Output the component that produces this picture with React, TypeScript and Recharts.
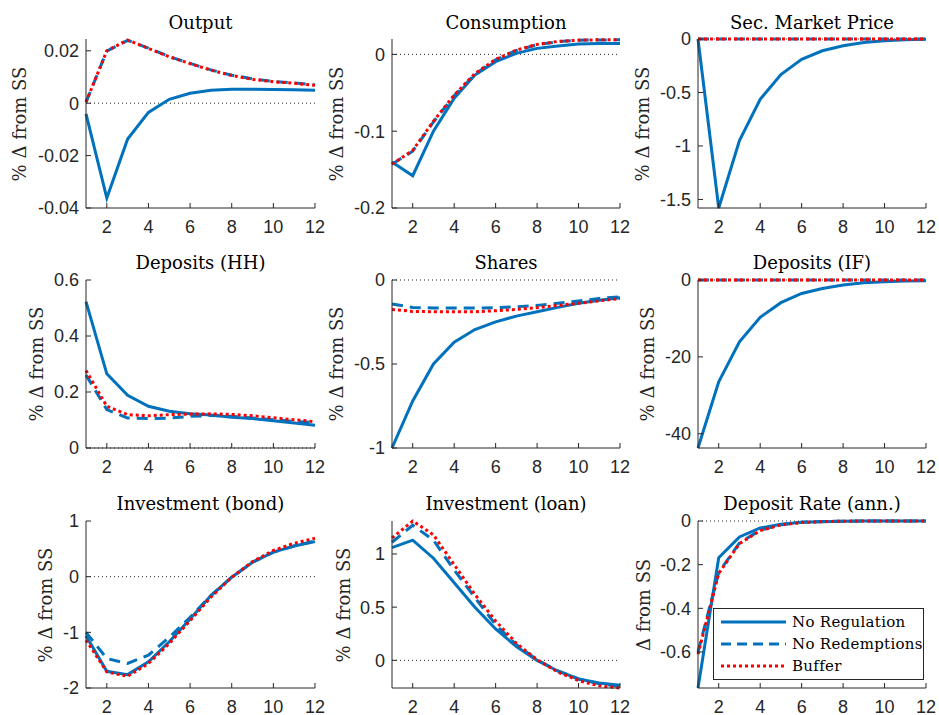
import React from 'react';
import { LineChart, Line, XAxis, YAxis, ReferenceLine, Legend } from 'recharts';

const periods = [1, 2, 3, 4, 5, 6, 7, 8, 9, 10, 11, 12];
const xTicks = [2, 4, 6, 8, 10, 12];

// Output
const outputNoReg = [-0.0041, -0.0362, -0.0137, -0.0035, 0.0015, 0.0038, 0.0049, 0.0053, 0.0053, 0.0052, 0.0051, 0.0049];
const outputNoRed = [0.0004, 0.0199, 0.024, 0.021, 0.0178, 0.0152, 0.0127, 0.0107, 0.0093, 0.0083, 0.0077, 0.007];
const outputBuffer = [0.0004, 0.02, 0.0241, 0.0209, 0.0177, 0.0151, 0.0126, 0.0106, 0.0091, 0.0082, 0.0076, 0.0068];
const outputTicks = [-0.04, -0.02, 0, 0.02];

// Consumption
const consNoReg = [-0.14, -0.158, -0.1, -0.057, -0.027, -0.0095, 0.0013, 0.0078, 0.011, 0.0134, 0.0142, 0.0142];
const consNoRed = [-0.143, -0.126, -0.088, -0.054, -0.026, -0.007, 0.005, 0.0125, 0.0165, 0.0183, 0.0188, 0.0189];
const consBuffer = [-0.143, -0.125, -0.087, -0.053, -0.025, -0.0065, 0.0056, 0.013, 0.0168, 0.0185, 0.019, 0.019];
const consTicks = [-0.2, -0.1, 0];

// Sec. Market Price
const secNoReg = [0, -1.58, -0.95, -0.563, -0.332, -0.19, -0.11, -0.063, -0.032, -0.016, -0.006, -0.003];
const secNoRed = [0, 0, 0, 0, 0, 0, 0, 0, 0, 0, 0, 0];
const secBuffer = [0, 0, 0, 0, 0, 0, 0, 0, 0, 0, 0, 0];
const secTicks = [-1.5, -1, -0.5, 0];

// Deposits (HH)
const hhNoReg = [0.523, 0.265, 0.188, 0.149, 0.131, 0.122, 0.118, 0.11, 0.105, 0.097, 0.089, 0.081];
const hhNoRed = [0.261, 0.137, 0.107, 0.105, 0.107, 0.113, 0.116, 0.113, 0.107, 0.101, 0.095, 0.091];
const hhBuffer = [0.277, 0.149, 0.119, 0.115, 0.119, 0.121, 0.122, 0.12, 0.115, 0.108, 0.101, 0.094];
const hhTicks = [0, 0.2, 0.4, 0.6];

// Shares
const sharesNoReg = [-1.0, -0.72, -0.5, -0.37, -0.295, -0.249, -0.215, -0.189, -0.163, -0.139, -0.12, -0.105];
const sharesNoRed = [-0.143, -0.163, -0.167, -0.167, -0.167, -0.165, -0.159, -0.151, -0.139, -0.125, -0.11, -0.1];
const sharesBuffer = [-0.175, -0.187, -0.189, -0.189, -0.189, -0.183, -0.175, -0.165, -0.151, -0.139, -0.124, -0.11];
const sharesTicks = [-1, -0.5, 0];

// Deposits (IF)
const ifNoReg = [-43.7, -26.5, -16.1, -9.7, -5.9, -3.5, -2.2, -1.3, -0.7, -0.43, -0.26, -0.17];
const ifNoRed = [0, 0, 0, 0, 0, 0, 0, 0, 0, 0, 0, 0];
const ifBuffer = [0, 0, 0, 0, 0, 0, 0, 0, 0, 0, 0, 0];
const ifTicks = [-40, -20, 0];

// Investment (bond)
const bondNoReg = [-1.06, -1.7, -1.76, -1.53, -1.17, -0.76, -0.34, -0.01, 0.26, 0.44, 0.55, 0.63];
const bondNoRed = [-1.0, -1.47, -1.56, -1.41, -1.09, -0.73, -0.34, -0.01, 0.26, 0.44, 0.55, 0.64];
const bondBuffer = [-1.14, -1.71, -1.79, -1.56, -1.2, -0.79, -0.37, -0.01, 0.27, 0.47, 0.6, 0.69];
const bondTicks = [-2, -1, 0, 1];

// Investment (loan)
const loanNoReg = [1.06, 1.13, 0.96, 0.73, 0.5, 0.295, 0.13, 0.0, -0.1, -0.175, -0.213, -0.235];
const loanNoRed = [1.11, 1.27, 1.13, 0.85, 0.59, 0.335, 0.147, 0.006, -0.1, -0.175, -0.22, -0.245];
const loanBuffer = [1.15, 1.31, 1.18, 0.9, 0.62, 0.37, 0.16, 0.006, -0.11, -0.19, -0.24, -0.26];
const loanTicks = [0, 0.5, 1];

// Deposit Rate (ann.)
const rateNoReg = [-0.765, -0.168, -0.073, -0.032, -0.015, -0.006, -0.003, -0.001, 0, 0, 0, 0];
const rateNoRed = [-0.6, -0.235, -0.1, -0.042, -0.017, -0.006, -0.002, -0.001, 0, 0, 0, 0];
const rateBuffer = [-0.61, -0.24, -0.104, -0.044, -0.018, -0.007, -0.003, -0.001, 0, 0, 0, 0];
const rateTicks = [-0.6, -0.4, -0.2, 0];

const BLUE = '#0072BD';
const RED = '#FF0000';
const INK = '#262626';

const colLeft = [86, 392, 698];
const colWidth = [229, 228, 228];
const rowTop = [39, 280, 521];
const rowHeight = [169, 168, 167];
const titleY = [23, 263, 504];

const Y_W = 70;
const X_H = 40;
const M_TOP = 10;
const M_RIGHT = 14;

type PanelDef = {
  title: string;
  ylabel: string;
  noReg: number[];
  noRed: number[];
  buffer: number[];
  domain: [number, number];
  ticks: number[];
  row: number;
  col: number;
  labelX: number;
  legend?: boolean;
};

const panels: PanelDef[] = [
  { title: 'Output', ylabel: '% Δ from SS', noReg: outputNoReg, noRed: outputNoRed, buffer: outputBuffer, domain: [-0.04, 0.0245], ticks: outputTicks, row: 0, col: 0, labelX: 20 },
  { title: 'Consumption', ylabel: '% Δ from SS', noReg: consNoReg, noRed: consNoRed, buffer: consBuffer, domain: [-0.2, 0.02], ticks: consTicks, row: 0, col: 1, labelX: 337 },
  { title: 'Sec. Market Price', ylabel: '% Δ from SS', noReg: secNoReg, noRed: secNoRed, buffer: secBuffer, domain: [-1.58, 0], ticks: secTicks, row: 0, col: 2, labelX: 643 },
  { title: 'Deposits (HH)', ylabel: '% Δ from SS', noReg: hhNoReg, noRed: hhNoRed, buffer: hhBuffer, domain: [0, 0.6], ticks: hhTicks, row: 1, col: 0, labelX: 37 },
  { title: 'Shares', ylabel: '% Δ from SS', noReg: sharesNoReg, noRed: sharesNoRed, buffer: sharesBuffer, domain: [-1, 0], ticks: sharesTicks, row: 1, col: 1, labelX: 337 },
  { title: 'Deposits (IF)', ylabel: '% Δ from SS', noReg: ifNoReg, noRed: ifNoRed, buffer: ifBuffer, domain: [-43.7, 0], ticks: ifTicks, row: 1, col: 2, labelX: 648 },
  { title: 'Investment (bond)', ylabel: '% Δ from SS', noReg: bondNoReg, noRed: bondNoRed, buffer: bondBuffer, domain: [-2, 1], ticks: bondTicks, row: 2, col: 0, labelX: 46 },
  { title: 'Investment (loan)', ylabel: '% Δ from SS', noReg: loanNoReg, noRed: loanNoRed, buffer: loanBuffer, domain: [-0.26, 1.31], ticks: loanTicks, row: 2, col: 1, labelX: 344 },
  { title: 'Deposit Rate (ann.)', ylabel: 'Δ from SS', noReg: rateNoReg, noRed: rateNoRed, buffer: rateBuffer, domain: [-0.765, 0], ticks: rateTicks, row: 2, col: 2, labelX: 644, legend: true },
];

const serif = "'DejaVu Serif', 'Liberation Serif', serif";
const sans = "'Liberation Sans', Arial, sans-serif";
const tickStyle = { fontFamily: sans, fontSize: 18, fill: INK };

const legendItems = [
  { label: 'No Regulation', dash: undefined as string | undefined, color: BLUE },
  { label: 'No Redemptions', dash: '10 6', color: BLUE },
  { label: 'Buffer', dash: '3 3', color: RED },
];

const renderLegend = () => (
  <div
    style={{
      width: 211,
      height: 72,
      boxSizing: 'border-box',
      border: `1px solid ${INK}`,
      background: '#fff',
      paddingTop: 2,
    }}
  >
    {legendItems.map((it) => (
      <div key={it.label} style={{ display: 'flex', alignItems: 'center', height: 22 }}>
        <svg width={78} height={10} style={{ flex: 'none' }}>
          <line x1={7} x2={72} y1={5} y2={5} stroke={it.color} strokeWidth={3} strokeDasharray={it.dash} />
        </svg>
        <span style={{ fontFamily: serif, fontSize: 15, letterSpacing: 0.3, color: '#000', whiteSpace: 'nowrap' }}>
          {it.label}
        </span>
      </div>
    ))}
  </div>
);

function Panel({ p }: { p: PanelDef }) {
  const plotLeft = colLeft[p.col];
  const plotW = colWidth[p.col];
  const plotTop = rowTop[p.row];
  const plotH = rowHeight[p.row];
  const data = periods.map((t, i) => ({ t, noReg: p.noReg[i], noRed: p.noRed[i], buffer: p.buffer[i] }));

  return (
    <>
      <div
        style={{
          position: 'absolute',
          left: plotLeft - 40,
          width: plotW + 80,
          top: titleY[p.row] - 12,
          lineHeight: '24px',
          textAlign: 'center',
          fontFamily: serif,
          fontSize: 18,
          color: '#000',
          whiteSpace: 'nowrap',
        }}
      >
        {p.title}
      </div>
      <div
        style={{
          position: 'absolute',
          left: p.labelX,
          top: plotTop + plotH / 2,
          transform: 'translate(-50%, -50%) rotate(-90deg)',
          fontFamily: serif,
          fontSize: 18,
          color: INK,
          whiteSpace: 'nowrap',
          lineHeight: '22px',
        }}
      >
        {p.ylabel}
      </div>
      <div style={{ position: 'absolute', left: plotLeft - Y_W, top: plotTop - M_TOP }}>
        <LineChart
          width={Y_W + plotW + M_RIGHT}
          height={M_TOP + plotH + X_H}
          data={data}
          margin={{ top: M_TOP, right: M_RIGHT, bottom: 0, left: 0 }}
        >
          <XAxis
            dataKey="t"
            type="number"
            domain={[1, 12]}
            ticks={xTicks}
            height={X_H}
            stroke={INK}
            tick={tickStyle}
            tickSize={-5}
            tickMargin={17}
            interval={0}
          />
          <YAxis
            type="number"
            domain={p.domain}
            ticks={p.ticks}
            width={Y_W}
            stroke={INK}
            tick={tickStyle}
            tickSize={-5}
            tickMargin={12}
            interval={0}
          />
          <ReferenceLine y={0} stroke={INK} strokeDasharray="1 3" strokeWidth={1} />
          <Line type="linear" dataKey="noReg" stroke={BLUE} strokeWidth={3} dot={false} isAnimationActive={false} />
          <Line type="linear" dataKey="noRed" stroke={BLUE} strokeWidth={3} strokeDasharray="11 7" dot={false} isAnimationActive={false} />
          <Line type="linear" dataKey="buffer" stroke={RED} strokeWidth={3} strokeDasharray="3 3" dot={false} isAnimationActive={false} />
          {p.legend && (
            <Legend
              content={renderLegend}
              layout="vertical"
              align="center"
              verticalAlign="middle"
              wrapperStyle={{ left: 85, top: 97, width: 211, height: 72 }}
            />
          )}
        </LineChart>
      </div>
    </>
  );
}

export default function App() {
  return (
    <div style={{ position: 'absolute', left: 0, top: 0, width: 939, height: 715, background: '#fff' }}>
      {panels.map((p) => (
        <Panel key={p.title} p={p} />
      ))}
    </div>
  );
}
